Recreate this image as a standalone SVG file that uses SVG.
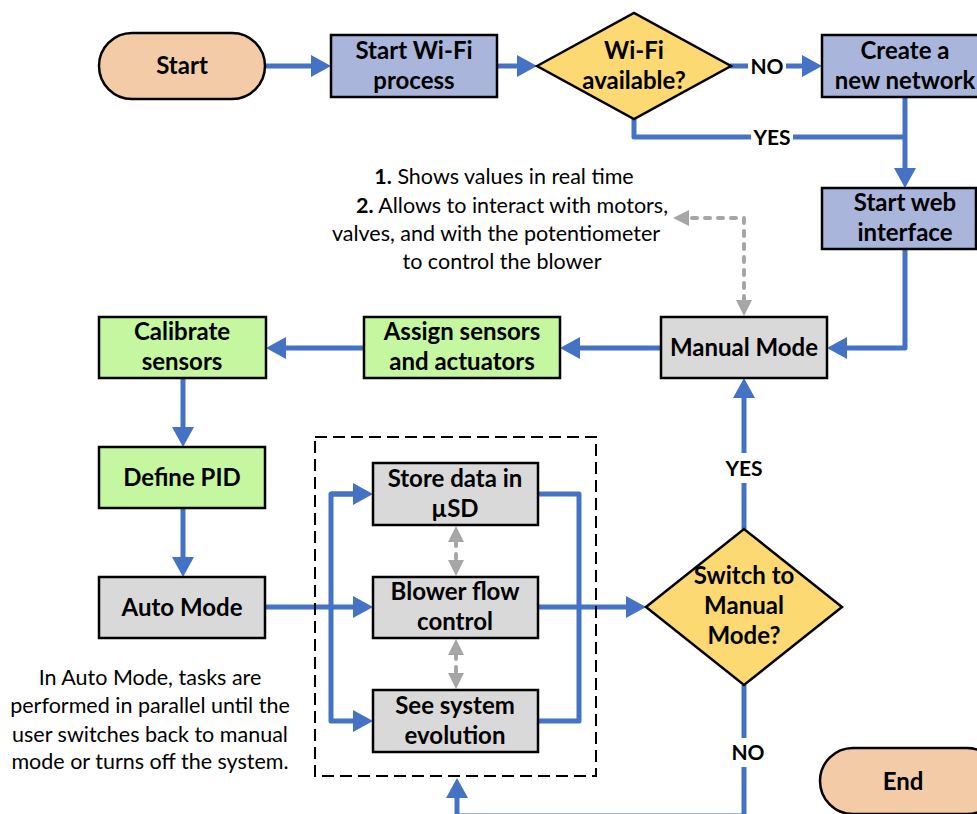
<svg xmlns="http://www.w3.org/2000/svg" width="977" height="814" viewBox="0 0 977 814">
<style>
.n{stroke:#000;stroke-width:2.5}
.term{fill:#F3CBA6}
.proc{fill:#A9B5DA}
.dec{fill:#FCD972}
.grn{fill:#C5F6A0}
.gry{fill:#D9D9D9}
.t{font-family:Lato,"Liberation Sans",sans-serif;font-weight:bold;font-size:24px;fill:#000;text-anchor:middle}
.lb{font-family:Lato,"Liberation Sans",sans-serif;font-weight:bold;font-size:21px;fill:#000;text-anchor:middle}
.note{font-family:Lato,"Liberation Sans",sans-serif;font-size:21.5px;fill:#000;text-anchor:middle}
.c{fill:none;stroke:#4472C4;stroke-width:5;stroke-linejoin:round}
.g{fill:none;stroke:#A6A6A6;stroke-width:4;stroke-linecap:round;stroke-dasharray:5 8}
</style>
<defs>
<marker id="ab" markerUnits="userSpaceOnUse" markerWidth="22" markerHeight="24" refX="2" refY="11" orient="auto"><path d="M0,0 L20,11 L0,22 z" fill="#4472C4"/></marker>
<marker id="ag" markerUnits="userSpaceOnUse" markerWidth="18" markerHeight="18" refX="1" refY="8" orient="auto-start-reverse"><path d="M0,0 L16,8 L0,16 z" fill="#A6A6A6"/></marker>
</defs>

<g id="connectors">
<path class="c" d="M265,66 H313" marker-end="url(#ab)"/>
<path class="c" d="M497,66 H519" marker-end="url(#ab)"/>
<path class="c" d="M730,66 H804" marker-end="url(#ab)"/>
<path class="c" d="M634,119 V137 H905"/>
<path class="c" d="M905,97 V170" marker-end="url(#ab)"/>
<path class="c" d="M905,249 V348 H845" marker-end="url(#ab)"/>
<path class="c" d="M661,348 H578" marker-end="url(#ab)"/>
<path class="c" d="M364,348 H284" marker-end="url(#ab)"/>
<path class="c" d="M183,378 V429" marker-end="url(#ab)"/>
<path class="c" d="M183,508 V559" marker-end="url(#ab)"/>
<path class="c" d="M265,607 H355" marker-end="url(#ab)"/>
<path class="c" d="M355,494 H331 V721 H355" marker-end="url(#ab)"/>
<path class="c" d="M331,494 H355" marker-end="url(#ab)"/>
<path class="c" d="M538,494 H579 V721 H538"/>
<path class="c" d="M538,607 H628" marker-end="url(#ab)"/>
<path class="c" d="M744,529 V396" marker-end="url(#ab)"/>
<path class="c" d="M744,685 V816 H457 V796" marker-end="url(#ab)"/>
<path class="g" d="M744,301 V218 H688" marker-start="url(#ag)" marker-end="url(#ag)"/>
<path class="g" d="M456,541 V561" marker-start="url(#ag)" marker-end="url(#ag)"/>
<path class="g" d="M456,654 V674" marker-start="url(#ag)" marker-end="url(#ag)"/>
</g>

<g id="labels">
<rect x="748" y="55" width="38" height="22" fill="#fff"/>
<text class="lb" x="767" y="74">NO</text>
<rect x="751" y="126" width="42" height="22" fill="#fff"/>
<text class="lb" x="772" y="145">YES</text>
<rect x="724" y="453" width="40" height="30" fill="#fff"/>
<text class="lb" x="744" y="476">YES</text>
<rect x="726" y="738" width="36" height="29" fill="#fff"/>
<text class="lb" x="748" y="760">NO</text>
</g>

<g id="dashed-box">
<rect x="315" y="437" width="281" height="339" fill="none" stroke="#000" stroke-width="2" stroke-dasharray="12 6"/>
</g>

<g id="start">
<rect class="n term" x="99" y="33" width="166" height="66" rx="33"/>
<text class="t" x="182" y="74">Start</text>
</g>
<g id="wifi-process">
<rect class="n proc" x="331" y="35" width="166" height="62"/>
<text class="t" x="414" y="59">Start Wi-Fi</text>
<text class="t" x="414" y="89">process</text>
</g>
<g id="wifi-available">
<path class="n dec" d="M537,66 L634,13 L731,66 L634,119 z"/>
<text class="t" x="634" y="59">Wi-Fi</text>
<text class="t" x="634" y="89">available?</text>
</g>
<g id="create-network">
<rect class="n proc" x="822" y="35" width="170" height="62"/>
<text class="t" x="905" y="59">Create a</text>
<text class="t" x="905" y="89">new network</text>
</g>
<g id="web-interface">
<rect class="n proc" x="822" y="188" width="154" height="61"/>
<text class="t" x="905" y="211">Start web</text>
<text class="t" x="905" y="241">interface</text>
</g>
<g id="manual-mode">
<rect class="n gry" x="661" y="317" width="166" height="61"/>
<text class="t" x="744" y="356">Manual Mode</text>
</g>
<g id="assign">
<rect class="n grn" x="364" y="317" width="196" height="61"/>
<text class="t" x="462" y="340">Assign sensors</text>
<text class="t" x="462" y="370">and actuators</text>
</g>
<g id="calibrate">
<rect class="n grn" x="99" y="317" width="167" height="61"/>
<text class="t" x="182" y="340">Calibrate</text>
<text class="t" x="182" y="370">sensors</text>
</g>
<g id="define-pid">
<rect class="n grn" x="99" y="447" width="166" height="61"/>
<text class="t" x="182" y="486">Define PID</text>
</g>
<g id="auto-mode">
<rect class="n gry" x="99" y="577" width="166" height="61"/>
<text class="t" x="182" y="616">Auto Mode</text>
</g>
<g id="store-data">
<rect class="n gry" x="373" y="463" width="165" height="62"/>
<text class="t" x="455" y="487">Store data in</text>
<text class="t" x="455" y="517">µSD</text>
</g>
<g id="blower">
<rect class="n gry" x="373" y="577" width="165" height="61"/>
<text class="t" x="455" y="600">Blower flow</text>
<text class="t" x="455" y="630">control</text>
</g>
<g id="see-system">
<rect class="n gry" x="373" y="690" width="165" height="62"/>
<text class="t" x="455" y="714">See system</text>
<text class="t" x="455" y="744">evolution</text>
</g>
<g id="switch-manual">
<path class="n dec" d="M646,607 L744,529 L842,607 L744,685 z"/>
<text class="t" x="744" y="584">Switch to</text>
<text class="t" x="744" y="614">Manual</text>
<text class="t" x="744" y="644">Mode?</text>
</g>
<g id="end">
<rect class="n term" x="820" y="748" width="180" height="66" rx="33"/>
<text class="t" x="903" y="790">End</text>
</g>

<g id="notes">
<text class="note" x="504" y="184"><tspan font-weight="bold">1.</tspan> Shows values in real time</text>
<text class="note" x="512" y="213"><tspan font-weight="bold">2.</tspan> Allows to interact with motors,</text>
<text class="note" x="496" y="241">valves, and with the potentiometer</text>
<text class="note" x="502" y="269">to control the blower</text>
<text class="note" x="150" y="685">In Auto Mode, tasks are</text>
<text class="note" x="150" y="713">performed in parallel until the</text>
<text class="note" x="150" y="742">user switches back to manual</text>
<text class="note" x="150" y="769">mode or turns off the system.</text>
</g>
</svg>
